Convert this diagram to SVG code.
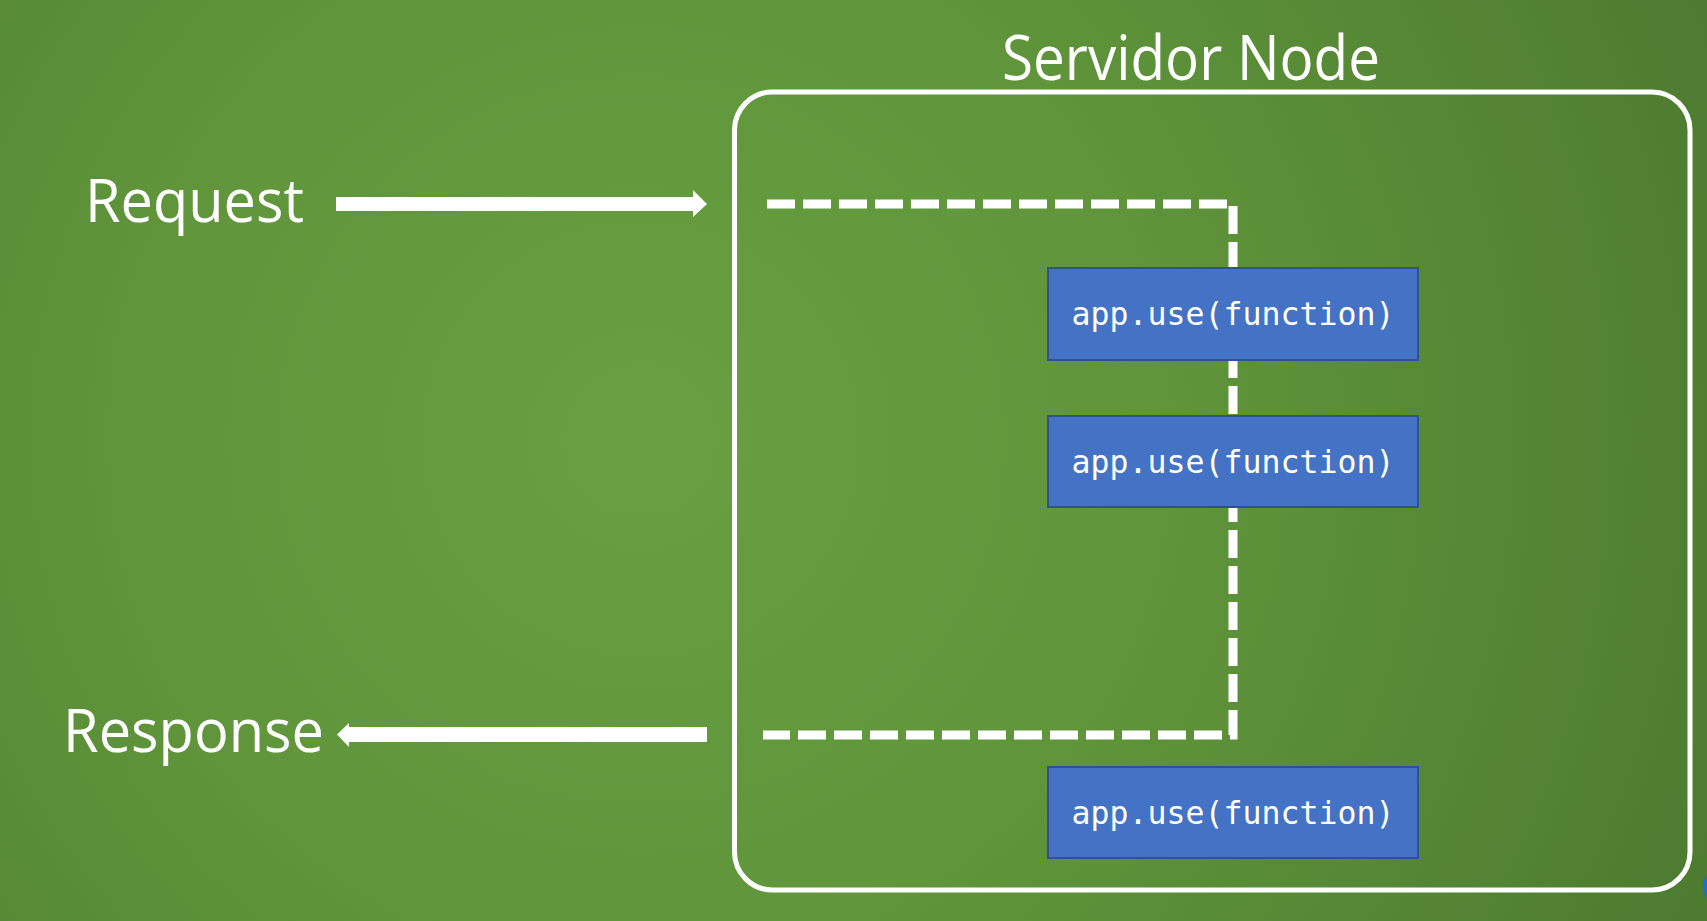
<svg xmlns="http://www.w3.org/2000/svg" width="1707" height="921" viewBox="0 0 1707 921">
  <defs>
    <radialGradient id="bg" gradientUnits="userSpaceOnUse" cx="640" cy="440" r="1150">
      <stop offset="0" stop-color="#68a042"/>
      <stop offset="0.45" stop-color="#60953b"/>
      <stop offset="1" stop-color="#4d7b30"/>
    </radialGradient>
    <style>
      .title { font-family: "Open Sans", "Noto Sans", "DejaVu Sans", sans-serif; fill: #ffffff; }
      .box { fill: #4472C4; stroke: #2F528F; stroke-width: 2; }
      .code { font-family: "DejaVu Sans Mono", "Liberation Mono", monospace; font-size: 32px; fill: #ffffff; text-anchor: middle; }
      .arrow { fill: #ffffff; }
      .flow { fill: none; stroke: #ffffff; stroke-width: 9; stroke-dasharray: 28 8; }
    </style>
  </defs>

  <rect x="0" y="0" width="1707" height="921" fill="url(#bg)"/>

  <g id="server">
    <rect x="734.5" y="92" width="955.5" height="798" rx="38" ry="38" fill="none" stroke="#ffffff" stroke-width="5"/>
    <text class="title" x="1002" y="80" font-size="62" textLength="378" lengthAdjust="spacingAndGlyphs">Servidor Node</text>
  </g>

  <g id="request">
    <text class="title" x="85" y="222" font-size="61" textLength="219" lengthAdjust="spacingAndGlyphs">Request</text>
  </g>

  <g id="response">
    <text class="title" x="63" y="752" font-size="61" textLength="261" lengthAdjust="spacingAndGlyphs">Response</text>
  </g>

  <g id="connectors">
    <polygon class="arrow" points="336,197 693,197 693,190 707,204 693,217 693,211 336,211"/>
    <polygon class="arrow" points="707,727 349,727 349,723 337,734.5 349,747 349,742 707,742"/>
    <path class="flow" d="M767 204 H1233 V735 H763"/>
  </g>

  <g id="mw1">
    <rect class="box" x="1048" y="268" width="370" height="92"/>
    <text class="code" x="1233" y="325" textLength="323" lengthAdjust="spacingAndGlyphs">app.use(function)</text>
  </g>

  <g id="mw2">
    <rect class="box" x="1048" y="416" width="370" height="91"/>
    <text class="code" x="1233" y="473" textLength="323" lengthAdjust="spacingAndGlyphs">app.use(function)</text>
  </g>

  <g id="mw3">
    <rect class="box" x="1048" y="767" width="370" height="91"/>
    <text class="code" x="1233" y="824" textLength="323" lengthAdjust="spacingAndGlyphs">app.use(function)</text>
  </g>

  <circle cx="1722" cy="887" r="19" fill="#1f6fc4"/>
</svg>
